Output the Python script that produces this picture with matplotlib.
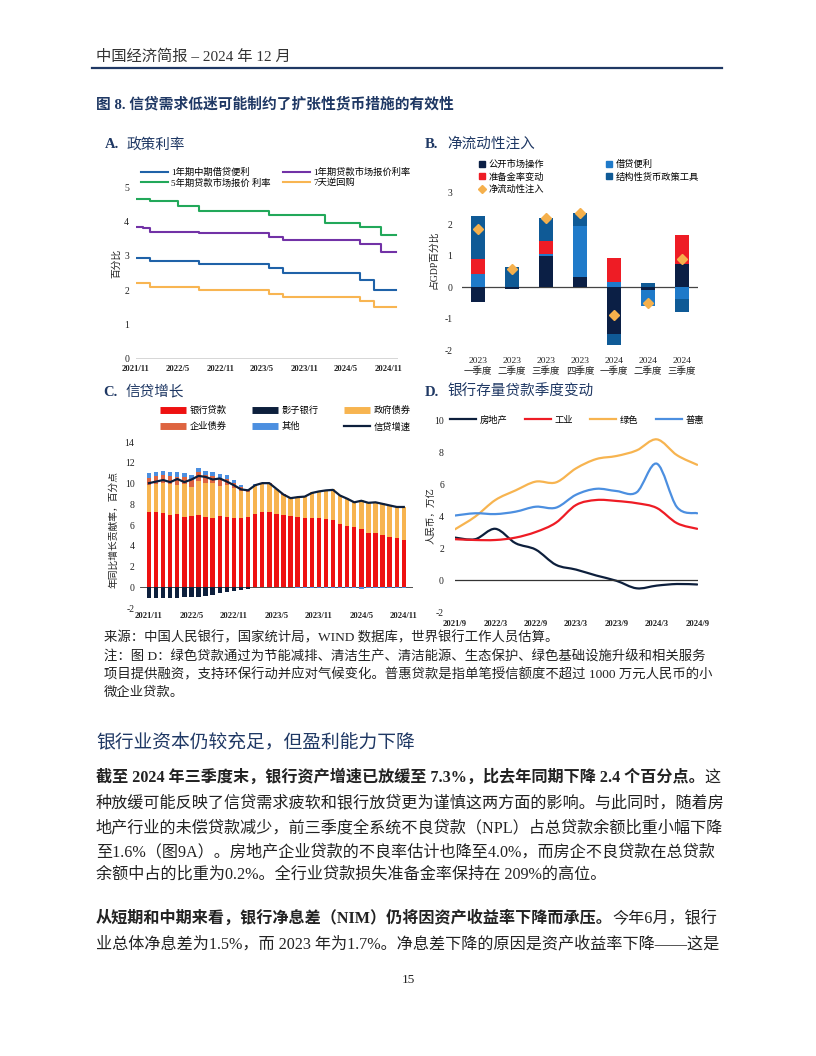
import matplotlib
matplotlib.use('Agg')
import matplotlib.pyplot as plt
from matplotlib.path import Path
from matplotlib.patches import PathPatch
from matplotlib.lines import Line2D
import numpy as np

plt.rcParams['font.family'] = ['Liberation Serif', 'Noto Sans CJK SC']
plt.rcParams['axes.unicode_minus'] = False

W, H = 816, 1056
NAVY = '#1F3864'
TXT = '#222222'

# ---------------- data ----------------
# A. policy rates, monthly 2021/11 .. 2024/11
a_ticks = ['2021/11', '2022/5', '2022/11', '2023/5', '2023/11', '2024/5', '2024/11']
mlf_1y = [2.95, 2.95, 2.85, 2.85, 2.85, 2.85, 2.85, 2.85, 2.85, 2.75, 2.75, 2.75, 2.75,
          2.75, 2.75, 2.75, 2.75, 2.75, 2.75, 2.65, 2.65, 2.50, 2.50, 2.50, 2.50, 2.50,
          2.50, 2.50, 2.50, 2.50, 2.50, 2.50, 2.30, 2.30, 2.00, 2.00, 2.00]
lpr_1y = [3.85, 3.80, 3.70, 3.70, 3.70, 3.70, 3.70, 3.70, 3.70, 3.65, 3.65, 3.65, 3.65,
          3.65, 3.65, 3.65, 3.65, 3.65, 3.65, 3.55, 3.55, 3.45, 3.45, 3.45, 3.45, 3.45,
          3.45, 3.45, 3.45, 3.45, 3.45, 3.45, 3.35, 3.35, 3.35, 3.10, 3.10]
lpr_5y = [4.65, 4.65, 4.60, 4.60, 4.60, 4.60, 4.45, 4.45, 4.45, 4.30, 4.30, 4.30, 4.30,
          4.30, 4.30, 4.30, 4.30, 4.30, 4.30, 4.20, 4.20, 4.20, 4.20, 4.20, 4.20, 4.20,
          4.20, 3.95, 3.95, 3.95, 3.95, 3.95, 3.85, 3.85, 3.85, 3.60, 3.60]
rr_7d = [2.20, 2.20, 2.10, 2.10, 2.10, 2.10, 2.10, 2.10, 2.10, 2.00, 2.00, 2.00, 2.00,
         2.00, 2.00, 2.00, 2.00, 2.00, 2.00, 1.90, 1.90, 1.80, 1.80, 1.80, 1.80, 1.80,
         1.80, 1.80, 1.80, 1.80, 1.80, 1.80, 1.70, 1.70, 1.50, 1.50, 1.50]

# B. net liquidity injection, % of GDP
b_quarters = ['2023\n一季度', '2023\n二季度', '2023\n三季度', '2023\n四季度',
              '2024\n一季度', '2024\n二季度', '2024\n三季度']
b_omo = [-0.46, -0.05, 0.98, 0.33, -1.50, -0.08, 0.75]
b_lend = [0.41, 0.00, 0.08, 1.62, 0.17, -0.52, -0.37]
b_rrr = [0.48, 0.00, 0.41, 0.00, 0.76, 0.00, 0.90]
b_struct = [1.39, 0.63, 0.73, 0.42, -0.33, 0.12, -0.43]
b_net = [1.85, 0.58, 2.21, 2.37, -0.88, -0.49, 0.89]

# C. credit growth contributions, monthly 2021/11 .. 2024/11
c_ticks = ['2021/11', '2022/5', '2022/11', '2023/5', '2023/11', '2024/5', '2024/11']
c_bank = [7.30, 7.25, 7.15, 7.00, 7.05, 6.75, 6.85, 7.00, 6.80, 6.70, 6.90, 6.80, 6.70,
          6.70, 6.80, 7.05, 7.25, 7.30, 7.05, 6.95, 6.90, 6.75, 6.65, 6.65, 6.65, 6.55,
          6.50, 6.15, 5.90, 5.80, 5.65, 5.25, 5.25, 5.05, 4.85, 4.75, 4.60]
c_gov = [2.55, 2.75, 2.90, 3.00, 2.80, 3.20, 2.80, 3.30, 3.30, 3.35, 2.90, 3.05, 2.90,
         2.60, 2.40, 2.70, 2.70, 2.70, 2.40, 2.00, 1.70, 2.00, 2.15, 2.50, 2.65, 2.85,
         2.95, 2.75, 2.70, 2.45, 2.75, 2.95, 3.00, 3.05, 3.10, 3.05, 3.15]
c_corp = [0.70, 0.70, 0.75, 0.75, 0.80, 0.70, 0.75, 0.80, 0.70, 0.70, 0.75, 0.60, 0.50,
          0.35, 0.20, 0.15, 0.10, 0.05, 0.05, 0.05, 0.00, 0.00, 0.00, 0.00, 0.00, 0.00,
          0.00, 0.00, 0.00, 0.00, 0.00, 0.00, 0.00, 0.00, 0.00, 0.00, 0.00]
c_other = [0.45, 0.45, 0.45, 0.40, 0.45, 0.40, 0.40, 0.45, 0.40, 0.40, 0.35, 0.35, 0.30,
           0.25, 0.10, 0.05, 0.05, 0.00, 0.00, 0.00, 0.00, -0.05, -0.05, -0.08, -0.08, -0.10,
           -0.10, -0.10, -0.08, -0.08, -0.12, -0.10, -0.05, -0.05, -0.05, -0.03, -0.03]
c_shadow = [-1.00, -1.00, -1.00, -1.05, -1.00, -0.95, -0.95, -0.90, -0.85, -0.75, -0.60, -0.50,
            -0.40, -0.25, -0.20, 0.00, 0.00, 0.00, 0.00, 0.00, 0.00, 0.00, 0.00, 0.00, 0.00,
            0.00, 0.00, 0.00, 0.00, 0.00, 0.00, 0.00, 0.00, 0.00, 0.00, 0.00, 0.00]
c_credit = [10.05, 10.20, 10.35, 10.15, 10.45, 10.15, 10.40, 10.75, 10.65, 10.40, 10.50, 10.20,
            9.85, 9.45, 9.35, 9.85, 10.05, 10.05, 9.50, 8.95, 8.60, 8.70, 8.75, 9.10, 9.25,
            9.35, 9.40, 8.85, 8.55, 8.20, 8.35, 8.15, 8.20, 8.05, 7.90, 7.75, 7.75]

# D. quarterly change in loan stock, trillion yuan, 2021/9 .. 2024/9
d_ticks = ['2021/9', '2022/3', '2022/9', '2023/3', '2023/9', '2024/3', '2024/9']
d_property = [2.65, 2.55, 3.20, 2.30, 1.90, 0.95, 0.65, 0.28, -0.05, -0.52, -0.35, -0.25, -0.28]
d_industry = [2.55, 2.50, 2.50, 2.65, 3.00, 3.58, 4.69, 5.00, 4.94, 4.80, 4.50, 3.55, 3.20]
d_green = [3.17, 3.96, 5.00, 5.60, 6.15, 6.10, 6.98, 7.56, 7.75, 8.10, 8.79, 7.80, 7.20]
d_inclusive = [4.03, 4.17, 4.12, 4.27, 4.58, 4.52, 5.33, 5.70, 5.56, 5.48, 7.27, 4.55, 4.17]

# ---------------- helpers ----------------
fig = plt.figure(figsize=(W / 100, H / 100), dpi=100)


def px_axes(l, t, r, b):
    ax = fig.add_axes([l / W, 1 - b / H, (r - l) / W, (b - t) / H])
    for s in ax.spines.values():
        s.set_visible(False)
    ax.tick_params(length=0, labelsize=7, colors='#222222')
    return ax


def ptext(x, y, s, **kw):
    kw.setdefault('va', 'center')
    return fig.text(x / W, 1 - y / H, s, **kw)


def fxy(x, y):
    return (x / W, 1 - y / H)


def panel_title(x, y, letter, name):
    ptext(x, y, letter, fontsize=10.5, weight='bold', color=NAVY)
    ptext(x + 22, y, name, fontsize=10.5, color=NAVY)


def smooth(ax, xs, ys, **kw):
    # Excel-like smoothed line: Catmull-Rom segments as cubic Bezier curves
    p = np.column_stack([xs, ys]).astype(float)
    q = np.vstack([p[:1], p, p[-1:]])
    verts = [p[0]]
    codes = [Path.MOVETO]
    for i in range(len(p) - 1):
        c1 = q[i + 1] + (q[i + 2] - q[i]) / 6
        c2 = q[i + 2] - (q[i + 3] - q[i + 1]) / 6
        verts += [c1, c2, q[i + 2]]
        codes += [Path.CURVE4] * 3
    ax.add_patch(PathPatch(Path(verts, codes), fill=False, capstyle='round', **kw))


LEG = 6.7

# ---------------- header ----------------
ptext(96, 57, '中国经济简报 – 2024 年 12 月', fontsize=11, color='#333333')
fig.add_artist(Line2D([92 / W, 722 / W], [1 - 68 / H, 1 - 68 / H], color=NAVY, lw=1.6,
                      transform=fig.transFigure))
ptext(96, 104, '图 8. 信贷需求低迷可能制约了扩张性货币措施的有效性', fontsize=10.6,
      weight='bold', color=NAVY)

# ---------------- A ----------------
panel_title(105, 145, 'A.', '政策利率')
ax = px_axes(136, 159.5, 398, 359)
xa = list(range(len(mlf_1y))) + [37.1]
for vals, col, lab in [(mlf_1y, '#1F62A8', '1年期中期借贷便利'),
                       (lpr_5y, '#22A85A', '5年期贷款市场报价 利率'),
                       (lpr_1y, '#7232A6', '1年期贷款市场报价利率'),
                       (rr_7d, '#F8B552', '7天逆回购')]:
    ax.step(xa, vals + [vals[-1]], where='post', color=col, lw=1.5, label=lab)
ax.set_xlim(0, 37.4)
ax.set_ylim(0, 5.8)
ax.set_yticks(range(0, 6))
ax.set_xticks(range(0, 37, 6))
ax.set_xticklabels(a_ticks, weight='bold', fontsize=6.2)
ax.axhline(0, color='#333333', lw=1.0)
ax.tick_params(axis='y', pad=5)
ax.tick_params(axis='x', pad=4)
ax.legend(ncol=2, loc='upper left', bbox_to_anchor=fxy(141, 168),
          bbox_transform=fig.transFigure, frameon=False, fontsize=LEG,
          handlelength=2.9, handletextpad=0.3, columnspacing=1.4,
          labelspacing=0.1, borderpad=0, borderaxespad=0)
ptext(117, 263, '百分比', fontsize=7, rotation=90, ha='center', color=TXT)

# ---------------- B ----------------
panel_title(425, 144, 'B.', '净流动性注入')
ax = px_axes(462, 193, 698, 350)
xb = np.arange(len(b_quarters))
pos = np.zeros(len(xb))
neg = np.zeros(len(xb))
bcols = ['#0B1F45', '#1F7AC9', '#EE1C25', '#0F5A96']
for vals, col in zip([b_omo, b_lend, b_rrr, b_struct], bcols):
    v = np.array(vals)
    ax.bar(xb, v, bottom=np.where(v >= 0, pos, neg), width=0.4, color=col, zorder=2)
    pos += np.clip(v, 0, None)
    neg += np.clip(v, None, 0)
ax.plot(xb, b_net, ls='none', marker='D', ms=5, color='#F5B04C', zorder=3)
ax.axhline(0, color='#444444', lw=0.9, zorder=1)
ax.set_xlim(-0.47, 6.47)
ax.set_ylim(-2, 3)
ax.set_yticks(range(-2, 4))
ax.set_xticks(xb)
ax.set_xticklabels(b_quarters, fontsize=6.8, linespacing=1.15)
ax.tick_params(axis='y', pad=7)
ax.tick_params(axis='x', pad=5)
bh = [Line2D([], [], ls='none', marker='s', ms=4.5, color=bcols[0]),
      Line2D([], [], ls='none', marker='s', ms=4.5, color=bcols[2]),
      Line2D([], [], ls='none', marker='D', ms=4, color='#F5B04C'),
      Line2D([], [], ls='none', marker='s', ms=4.5, color=bcols[1]),
      Line2D([], [], ls='none', marker='s', ms=4.5, color=bcols[3])]
bl = ['公开市场操作', '准备金率变动', '净流动性注入', '借贷便利', '结构性货币政策工具']
ax.legend(bh, bl, ncol=2, loc='upper left', bbox_to_anchor=fxy(478, 160),
          bbox_transform=fig.transFigure, frameon=False, fontsize=LEG,
          handlelength=0.8, handletextpad=0.3, columnspacing=6.6,
          labelspacing=0.35, borderpad=0, borderaxespad=0)
ptext(434, 260, '占GDP百分比', fontsize=7, rotation=90, ha='center', color=TXT)

# ---------------- C ----------------
panel_title(103, 392, 'C.', '信贷增长')
ax = px_axes(140, 436, 413, 608)
xc = np.arange(len(c_bank))
pos = np.zeros(len(xc))
neg = np.zeros(len(xc))
ccols = {'bank': '#EE1111', 'gov': '#F7B450', 'corp': '#DE6440', 'other': '#4C8FE0',
         'shadow': '#0D1F3C'}
for vals, key in [(c_shadow, 'shadow'), (c_bank, 'bank'), (c_gov, 'gov'),
                  (c_corp, 'corp'), (c_other, 'other')]:
    v = np.array(vals)
    ax.bar(xc, v, bottom=np.where(v >= 0, pos, neg), width=0.62, color=ccols[key], zorder=2)
    pos += np.clip(v, 0, None)
    neg += np.clip(v, None, 0)
ax.plot(xc, c_credit, color='#0D1F3C', lw=1.6, zorder=3)
ax.axhline(0, color='#333333', lw=0.6, zorder=1)
ax.set_xlim(-1.27, 37.3)
ax.set_ylim(-2, 14.6)
ax.set_yticks(range(-2, 15, 2))
ax.set_xticks(range(0, 37, 6))
ax.set_xticklabels(c_ticks, weight='bold', fontsize=6.2)
ax.tick_params(axis='y', pad=4)
ax.tick_params(axis='x', pad=3)
ch = [Line2D([], [], lw=5, color=ccols['bank'], solid_capstyle='butt'),
      Line2D([], [], lw=5, color=ccols['corp'], solid_capstyle='butt'),
      Line2D([], [], lw=5, color=ccols['shadow'], solid_capstyle='butt'),
      Line2D([], [], lw=5, color=ccols['other'], solid_capstyle='butt'),
      Line2D([], [], lw=5, color=ccols['gov'], solid_capstyle='butt'),
      Line2D([], [], lw=1.6, color='#0D1F3C')]
cl = ['银行贷款', '企业债券', '影子银行', '其他', '政府债券', '信贷增速']
ax.legend(ch, cl, ncol=3, loc='upper left', bbox_to_anchor=fxy(160, 406),
          bbox_transform=fig.transFigure, frameon=False, fontsize=LEG,
          handlelength=2.8, handletextpad=0.4, columnspacing=2.7,
          labelspacing=0.75, borderpad=0, borderaxespad=0)
ptext(114, 530, '年同比增长贡献率，百分点', fontsize=7, rotation=90, ha='center', color=TXT)

# ---------------- D ----------------
panel_title(425, 392, 'D.', '银行存量贷款季度变动')
ax = px_axes(455, 420, 698, 612)
xd = np.arange(len(d_property))
dcols = ['#0D1F3C', '#EE1C25', '#F7B450', '#4C8FE0']
for vals, col in zip([d_property, d_industry, d_green, d_inclusive], dcols):
    smooth(ax, xd, vals, color=col, lw=1.6)
ax.axhline(0, color='#333333', lw=0.9, zorder=1)
ax.set_xlim(0, 12.04)
ax.set_ylim(-2, 10)
ax.set_yticks(range(-2, 11, 2))
ax.set_xticks(range(0, 13, 2))
ax.set_xticklabels(d_ticks, weight='bold', fontsize=6.2)
ax.tick_params(axis='y', pad=8)
ax.tick_params(axis='x', pad=6)
dh = [Line2D([], [], lw=1.6, color=c) for c in dcols]
ax.legend(dh, ['房地产', '工业', '绿色', '普惠'], ncol=4, loc='center left',
          bbox_to_anchor=fxy(450, 420), bbox_transform=fig.transFigure, frameon=False,
          fontsize=LEG, handlelength=2.8, handletextpad=0.35, columnspacing=1.9,
          borderpad=0, borderaxespad=0)
ptext(431, 516, '人民币，万亿', fontsize=6.8, rotation=90, ha='center', color=TXT)

# ---------------- notes ----------------
notes = ['来源：中国人民银行，国家统计局，WIND 数据库，世界银行工作人员估算。',
         '注：图 D：绿色贷款通过为节能减排、清洁生产、清洁能源、生态保护、绿色基础设施升级和相关服务',
         '项目提供融资，支持环保行动并应对气候变化。普惠贷款是指单笔授信额度不超过 1000 万元人民币的小',
         '微企业贷款。']
for y, s in zip([638, 657, 675, 693], notes):
    ptext(104, y, s, fontsize=9.6, color=TXT)

ptext(96, 742, '银行业资本仍较充足，但盈利能力下降', fontsize=13.5, color=NAVY)

renderer = fig.canvas.get_renderer()
BODY = 11.6


def mixed_line(y, bold, rest, size=BODY):
    t = ptext(96, y, bold, fontsize=size, weight='bold', color=TXT)
    bb = t.get_window_extent(renderer)
    fig.text(bb.x1 / fig.bbox.width, 1 - y / H, rest, fontsize=size, color=TXT, va='center')


mixed_line(778, '截至 2024 年三季度末，银行资产增速已放缓至 7.3%，比去年同期下降 2.4 个百分点。', '这')
body1 = ['种放缓可能反映了信贷需求疲软和银行放贷更为谨慎这两方面的影响。与此同时，随着房',
         '地产行业的未偿贷款减少，前三季度全系统不良贷款（NPL）占总贷款余额比重小幅下降',
         '至1.6%（图9A）。房地产企业贷款的不良率估计也降至4.0%，而房企不良贷款在总贷款',
         '余额中占的比重为0.2%。全行业贷款损失准备金率保持在 209%的高位。']
for y, s in zip([803, 828, 852, 875], body1):
    ptext(96, y, s, fontsize=BODY, color=TXT)
mixed_line(919, '从短期和中期来看，银行净息差（NIM）仍将因资产收益率下降而承压。', '今年6月，银行')
ptext(96, 944, '业总体净息差为1.5%，而 2023 年为1.7%。净息差下降的原因是资产收益率下降——这是',
      fontsize=BODY, color=TXT)
ptext(408, 980, '15', fontsize=9.5, ha='center', color=TXT)

fig.savefig('out.png', dpi=100)
